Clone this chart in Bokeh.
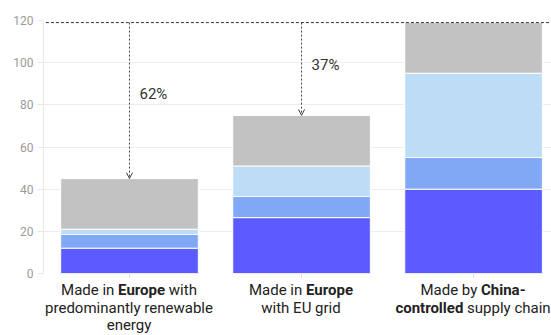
from bokeh.plotting import figure
from bokeh.models import (ColumnDataSource, FixedTicker, Arrow, OpenHead, Div)
from bokeh.layouts import column
from bokeh.core.properties import value
from bokeh.embed import file_html
from bokeh.resources import INLINE

# --- data -------------------------------------------------------------
scenarios = ["europe_renewable", "europe_grid", "china_chain"]
segment_a = [12, 26.5, 40]     # darkest blue, bottom
segment_b = [6.5, 10, 15]      # mid blue
segment_c = [2.5, 14.5, 40]    # light blue
segment_d = [24, 24, 24]       # grey, top
y_ticks = [0, 20, 40, 60, 80, 100, 120]

# label lines per category: (text, bold) runs
category_labels = [
    [[("Made in ", False), ("Europe", True), (" with", False)],
     [("predominantly renewable", False)],
     [("energy", False)]],
    [[("Made in ", False), ("Europe", True)],
     [("with EU grid", False)]],
    [[("Made by ", False), ("China-", True)],
     [("controlled", True), (" supply chain", False)]],
]

colors = ["#5b5bff", "#80a8f5", "#bddcf5", "#c2c2c2"]
FONT = "Roboto"

x_pos = [0.5 + i for i in range(len(scenarios))]
totals = [a + b + c + d for a, b, c, d in zip(segment_a, segment_b, segment_c, segment_d)]
reference = max(totals)

src = ColumnDataSource(dict(x=x_pos, a=segment_a, b=segment_b, c=segment_c, d=segment_d))

p = figure(width=551, height=281, x_range=(0, 2.953), y_range=(0, 120),
           output_backend="svg", toolbar_location=None,
           min_border_top=20, min_border_bottom=8, min_border_left=43, min_border_right=0)
p.outline_line_color = None
p.background_fill_color = "white"
p.border_fill_color = "white"

p.vbar_stack(["a", "b", "c", "d"], x="x", width=0.8, source=src,
             fill_color=colors, line_color="white", line_width=1)

# y axis
p.yaxis.ticker = FixedTicker(ticks=y_ticks)
p.yaxis.axis_line_color = "#e8e8e8"
p.yaxis.major_tick_line_color = "#e8e8e8"
p.yaxis.major_tick_out = 6
p.yaxis.major_tick_in = 0
p.yaxis.minor_tick_line_color = None
p.yaxis.major_label_text_color = "#9a9a9a"
p.yaxis.major_label_text_font = FONT
p.yaxis.major_label_text_font_size = "12px"
p.yaxis.major_label_standoff = 4
p.ygrid.grid_line_color = "#eeeeee"
p.ygrid.ticker = FixedTicker(ticks=y_ticks)

# x axis: just small ticks, category text is set below the plot
p.xaxis.ticker = FixedTicker(ticks=x_pos)
p.xaxis.axis_line_color = None
p.xaxis.major_tick_line_color = "#dddddd"
p.xaxis.major_tick_out = 4
p.xaxis.major_tick_in = 0
p.xaxis.minor_tick_line_color = None
p.xaxis.major_label_text_font_size = "1px"
p.xaxis.major_label_text_color = None
p.xaxis.major_label_standoff = 0
p.xgrid.grid_line_color = None

# reference level line
p.segment(x0=[-0.015], y0=[reference], x1=[2.953], y1=[reference],
          line_color="#333333", line_width=1, line_dash="3 2")

# drop arrows and percentage gaps
pct_x, pct_y, pct_t = [], [], []
for x, t in zip(x_pos, totals):
    if t >= reference:
        continue
    p.add_layout(Arrow(x_start=x, y_start=reference, x_end=x, y_end=t,
                       line_color="#444444", line_width=1, line_dash="2 2",
                       end=OpenHead(size=6, line_color="#444444", line_width=1)))
    pct_x.append(x)
    pct_y.append(reference - 0.46 * (reference - t))
    pct_t.append(f"{round(100 * (1 - t / reference))}%")

p.text(x=pct_x, y=pct_y, text=pct_t, x_offset=10,
       text_font=value(FONT), text_font_size="15px", text_color="#333333",
       text_align="left", text_baseline="middle")

# category labels with bold emphasis
cols = []
for lines in category_labels:
    rows = []
    for line in lines:
        runs = "".join(f"<b>{t}</b>" if b else t for t, b in line)
        rows.append(f'<span style="white-space:pre;">{runs}</span>')
    cols.append('<div style="width:172px;flex:none;display:flex;flex-direction:column;'
                'align-items:center;">' + "".join(rows) + "</div>")
html = ('<div style="display:flex;padding-left:43px;padding-top:1px;'
        f'font-family:{FONT};font-size:15px;line-height:17.6px;color:#222222;'
        'width:551px;overflow:hidden;box-sizing:border-box;">' + "".join(cols) + "</div>")
labels = Div(text=html, width=551, height=54, margin=(0, 0, 0, 0),
             styles={"overflow": "hidden"})

layout = column(p, labels, spacing=0)

with open("out.html", "w") as f:
    f.write(file_html(layout, INLINE))
